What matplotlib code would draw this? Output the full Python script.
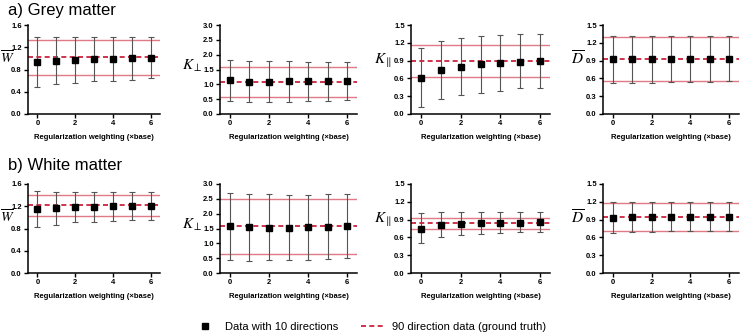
import numpy as np
import matplotlib
matplotlib.use("Agg")
import matplotlib.pyplot as plt
from matplotlib.lines import Line2D

plt.rcParams['font.family'] = ['Liberation Sans', 'DejaVu Sans']
plt.rcParams['mathtext.fontset'] = 'stix'

# regularization weighting (x base)
weights = [0, 1, 2, 3, 4, 5, 6]

# grey matter
gm_w_mean = [0.94, 0.96, 0.97, 0.98, 0.99, 1.00, 1.01]
gm_w_low = [0.49, 0.54, 0.56, 0.59, 0.60, 0.62, 0.64]
gm_w_high = [1.39, 1.39, 1.38, 1.38, 1.38, 1.38, 1.38]
gm_w_truth = [0.71, 1.02, 1.33]

gm_kperp_mean = [1.13, 1.09, 1.09, 1.10, 1.10, 1.10, 1.11]
gm_kperp_low = [0.43, 0.40, 0.42, 0.42, 0.43, 0.45, 0.46]
gm_kperp_high = [1.83, 1.78, 1.78, 1.77, 1.76, 1.75, 1.75]
gm_kperp_truth = [0.58, 1.09, 1.58]

gm_kpar_mean = [0.61, 0.75, 0.80, 0.84, 0.86, 0.88, 0.90]
gm_kpar_low = [0.12, 0.26, 0.32, 0.36, 0.39, 0.43, 0.44]
gm_kpar_high = [1.11, 1.23, 1.28, 1.31, 1.33, 1.34, 1.34]
gm_kpar_truth = [0.63, 0.89, 1.16]

gm_d_mean = [0.92, 0.92, 0.92, 0.92, 0.92, 0.92, 0.92]
gm_d_low = [0.53, 0.53, 0.53, 0.54, 0.54, 0.54, 0.55]
gm_d_high = [1.31, 1.31, 1.31, 1.31, 1.31, 1.31, 1.31]
gm_d_truth = [0.55, 0.93, 1.30]

# white matter
wm_w_mean = [1.15, 1.17, 1.18, 1.19, 1.20, 1.20, 1.21]
wm_w_low = [0.83, 0.87, 0.91, 0.92, 0.94, 0.95, 0.96]
wm_w_high = [1.48, 1.46, 1.45, 1.45, 1.45, 1.45, 1.45]
wm_w_truth = [1.03, 1.22, 1.40]

wm_kperp_mean = [1.58, 1.54, 1.53, 1.53, 1.54, 1.55, 1.57]
wm_kperp_low = [0.45, 0.42, 0.43, 0.44, 0.45, 0.48, 0.51]
wm_kperp_high = [2.70, 2.67, 2.65, 2.63, 2.63, 2.66, 2.67]
wm_kperp_truth = [0.65, 1.57, 2.49]

wm_kpar_mean = [0.75, 0.81, 0.83, 0.84, 0.85, 0.85, 0.86]
wm_kpar_low = [0.50, 0.60, 0.64, 0.66, 0.67, 0.69, 0.69]
wm_kpar_high = [1.01, 1.02, 1.03, 1.03, 1.03, 1.03, 1.03]
wm_kpar_truth = [0.75, 0.85, 0.92]

wm_d_mean = [0.93, 0.94, 0.94, 0.94, 0.95, 0.95, 0.95]
wm_d_low = [0.67, 0.69, 0.69, 0.70, 0.70, 0.70, 0.71]
wm_d_high = [1.20, 1.20, 1.20, 1.20, 1.20, 1.20, 1.20]
wm_d_truth = [0.70, 0.95, 1.18]

labels = [r'$\overline{W}$', r'$K_{\perp}$', r'$K_{\parallel}$', r'$\overline{D}$']
yticks_list = [[0, 0.4, 0.8, 1.2, 1.6],
               [0, 0.5, 1.0, 1.5, 2.0, 2.5, 3.0],
               [0, 0.3, 0.6, 0.9, 1.2, 1.5],
               [0, 0.3, 0.6, 0.9, 1.2, 1.5]]

rows = [
    [(gm_w_mean, gm_w_low, gm_w_high, gm_w_truth),
     (gm_kperp_mean, gm_kperp_low, gm_kperp_high, gm_kperp_truth),
     (gm_kpar_mean, gm_kpar_low, gm_kpar_high, gm_kpar_truth),
     (gm_d_mean, gm_d_low, gm_d_high, gm_d_truth)],
    [(wm_w_mean, wm_w_low, wm_w_high, wm_w_truth),
     (wm_kperp_mean, wm_kperp_low, wm_kperp_high, wm_kperp_truth),
     (wm_kpar_mean, wm_kpar_low, wm_kpar_high, wm_kpar_truth),
     (wm_d_mean, wm_d_low, wm_d_high, wm_d_truth)],
]

fig = plt.figure(figsize=(7.4, 3.34), dpi=100)

W, H = 740.0, 334.0
lefts = [28, 220, 411, 603]
widths = [132, 137, 139, 136]
tops = [25, 184]
ax_h = 89
label_px = [7, 192, 383, 578]
label_fy = [0.375, 0.46, 0.4, 0.38]
label_fs = [10, 11, 11, 11]

line_red = '#e07a85'
dash_red = '#c8102e'

for r, row in enumerate(rows):
    for c, (mean, low, high, truth) in enumerate(row):
        ax = fig.add_axes([lefts[c] / W, 1 - (tops[r] + ax_h) / H, widths[c] / W, ax_h / H])
        mean = np.array(mean)
        yerr = [mean - np.array(low), np.array(high) - mean]
        ax.axhline(truth[0], color=line_red, lw=1.0, zorder=1)
        ax.axhline(truth[2], color=line_red, lw=1.0, zorder=1)
        ax.axhline(truth[1], color=dash_red, lw=1.2, ls=(0, (3, 2)), zorder=2)
        ax.errorbar(weights, mean, yerr=yerr, fmt='s', color='black', ms=4,
                    ecolor='#555555', elinewidth=0.8, capsize=2, capthick=0.8, zorder=3)
        yt = yticks_list[c]
        ax.set_ylim(yt[0], yt[-1])
        ax.set_yticks(yt)
        ax.set_yticklabels(['%.1f' % v for v in yt])
        ax.set_xlim(-0.5, 6.5)
        ax.set_xticks([0, 2, 4, 6])
        for s in ['top', 'right']:
            ax.spines[s].set_visible(False)
        for s in ['left', 'bottom']:
            ax.spines[s].set_linewidth(1.1)
        ax.tick_params(labelsize=5.5, width=1.0, length=3, pad=1.5)
        for t in ax.get_xticklabels() + ax.get_yticklabels():
            t.set_fontweight('bold')
        ax.set_xlabel('Regularization weighting (×base)', fontsize=5.5,
                      fontweight='bold', labelpad=5)
        fig.text(label_px[c] / W, 1 - (tops[r] + label_fy[c] * ax_h) / H, labels[c],
                 fontsize=label_fs[c], va='center', ha='center')

fig.text(8 / W, 1 - 10 / H, 'a) Grey matter', fontsize=12, va='center', ha='left')
fig.text(8 / W, 1 - 165 / H, 'b) White matter', fontsize=12, va='center', ha='left')

handles = [Line2D([], [], marker='s', color='black', ls='none', ms=4),
           Line2D([], [], color=dash_red, ls=(0, (3, 2)), lw=1.2)]
fig.legend(handles, ['Data with 10 directions', '90 direction data (ground truth)'],
           loc='center', bbox_to_anchor=(0.5, 1 - 327 / H), ncol=2, frameon=False,
           fontsize=8, handlelength=2.0, columnspacing=2.0, handletextpad=0.8)

fig.savefig('out.png', dpi=100)
